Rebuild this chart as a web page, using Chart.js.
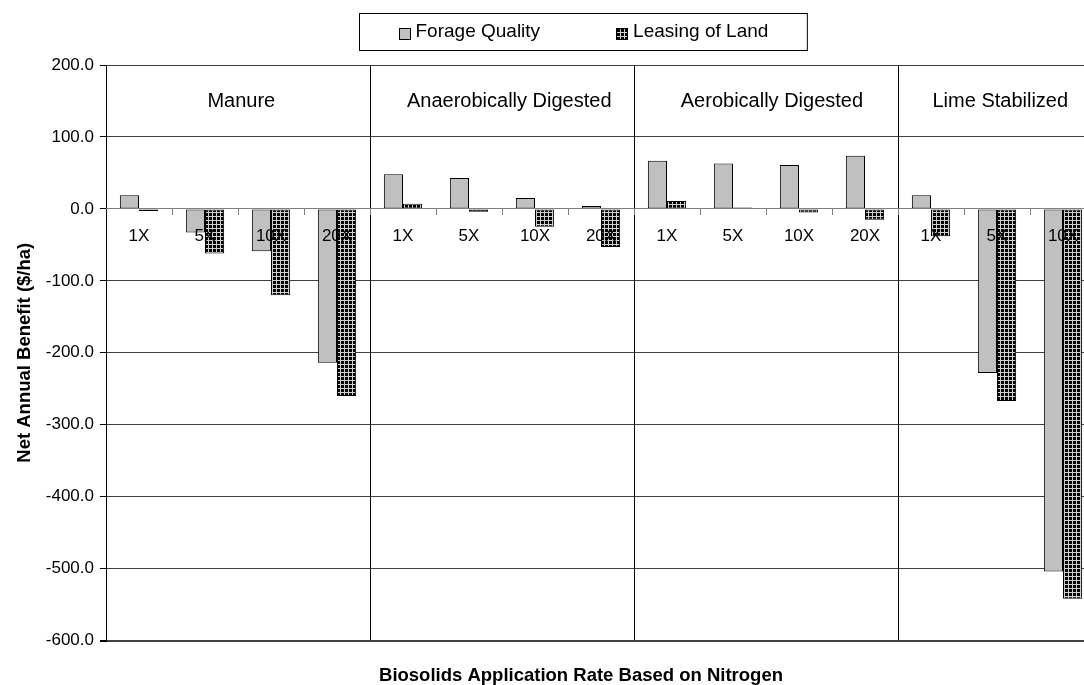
<!DOCTYPE html>
<html>
<head>
<meta charset="utf-8">
<title>Net Annual Benefit</title>
<script src="https://cdn.jsdelivr.net/npm/chart.js@4.4.1/dist/chart.umd.min.js"></script>
<style>
  html, body { margin: 0; padding: 0; background: #fff; overflow: hidden; }
  #wrap { width: 1166px; height: 685px; position: relative; }
</style>
</head>
<body>
<div id="wrap"><canvas id="bar-chart"></canvas></div>
<script>
// groups and application rates (x axis)
const groups = ['Manure', 'Anaerobically Digested', 'Aerobically Digested', 'Lime Stabilized'];
const rates = ['1X', '5X', '10X', '20X'];

// net annual benefit ($/ha); lime 20X lies past the right edge
const forageQuality = [19, -33, -59, -214, 48, 43, 15, 4, 67, 63, 61, 74, 19, -228, -504, null];
const leasingOfLand = [-3, -62, -120, -260, 7, -4, -25, -53, 11, 2, -5, -15, -38, -267, -542, null];

// y axis range
const yMin = -600;
const yMax = 200;
const yStep = 100;

let labels = [];
groups.forEach(() => rates.forEach(r => labels.push(r)));

Chart.defaults.font.family = '"Liberation Sans", Arial, sans-serif';
Chart.defaults.color = '#000';

const canvas = document.querySelector('#bar-chart');

// black fill with light grid, like the excel "large grid" pattern
let gridPattern = function(){
    let tile = document.createElement('canvas');
    tile.width = 4;
    tile.height = 4;
    let g = tile.getContext('2d');
    g.fillStyle = '#000';
    g.fillRect(0, 0, 4, 4);
    g.fillStyle = '#d0d0d0';
    g.fillRect(0, 0, 4, 1);
    g.fillRect(0, 0, 1, 4);
    return canvas.getContext('2d').createPattern(tile, 'repeat');
}

//legend drawn inside a bordered box at the top
const boxLegend = {
    id: 'boxLegend',
    afterDraw(chart, args, opts){
        const ctx = chart.ctx;
        ctx.save();
        ctx.font = opts.font;
        let items = chart.data.datasets.map(ds => ({
            text: ds.label,
            fill: ds.backgroundColor,
            w: ctx.measureText(ds.label).width
        }));
        let content = items.reduce((s, it) => s + opts.box + opts.gap + it.w, 0) + opts.spacing * (items.length - 1);
        let width = content + opts.padX * 2;
        let left = Math.round(chart.width / 2 - width / 2) + 0.5;
        ctx.fillStyle = '#fff';
        ctx.strokeStyle = '#000';
        ctx.lineWidth = 1;
        ctx.fillRect(left, opts.top, width, opts.height);
        ctx.strokeRect(left, opts.top, width, opts.height);
        let x = left + opts.padX;
        let cy = opts.top + opts.height / 2;
        items.forEach(it => {
            let bx = Math.round(x) + 0.5;
            let by = Math.round(cy - opts.box / 2 + opts.boxShift) + 0.5;
            ctx.fillStyle = it.fill;
            ctx.fillRect(bx, by, opts.box, opts.box);
            ctx.strokeRect(bx, by, opts.box, opts.box);
            ctx.fillStyle = '#000';
            ctx.textAlign = 'left';
            ctx.textBaseline = 'middle';
            ctx.fillText(it.text, x + opts.box + opts.gap, cy);
            x += opts.box + opts.gap + it.w + opts.spacing;
        });
        ctx.restore();
    }
};

//group names written inside the plot
const groupLabels = {
    id: 'groupLabels',
    afterDatasetsDraw(chart, args, opts){
        const {ctx, scales: {x, y}} = chart;
        ctx.save();
        ctx.font = opts.font;
        ctx.fillStyle = '#000';
        ctx.textAlign = 'center';
        ctx.textBaseline = 'middle';
        groups.forEach((g, i) => {
            ctx.fillText(g, x.getPixelForValue(opts.at[i]), y.getPixelForValue(opts.level));
        });
        ctx.restore();
    }
};

let data = {
    labels: labels,
    datasets: [
    {
        label: 'Forage Quality',
        data: forageQuality,
        backgroundColor: '#c0c0c0',
        borderColor: '#000',
        borderWidth: 1,
        borderSkipped: false,
        categoryPercentage: 0.58,
        barPercentage: 1.0
    },
    {
        label: 'Leasing of Land',
        data: leasingOfLand,
        backgroundColor: gridPattern(),
        borderColor: '#000',
        borderWidth: 1,
        borderSkipped: false,
        categoryPercentage: 0.58,
        barPercentage: 1.0
    }]
};

const config = {
    type: 'bar',
    data: data,
    plugins: [boxLegend, groupLabels],
    options: {
        responsive: true,
        maintainAspectRatio: false,
        animation: false,
        layout: { padding: { top: 65, right: 4, left: 0, bottom: 0 } },
        plugins: {
            legend: { display: false },
            tooltip: { enabled: false },
            title: {
                display: true,
                position: 'bottom',
                text: 'Biosolids Application Rate Based on Nitrogen',
                color: '#000',
                font: { size: 18.5, weight: 'bold', lineHeight: 1 },
                padding: { top: 26, bottom: 0 }
            },
            boxLegend: {
                font: '19px "Liberation Sans", Arial, sans-serif',
                top: 13.5, height: 37, padX: 39, box: 11, gap: 6, spacing: 76, boxShift: 1.5
            },
            groupLabels: {
                font: '20px "Liberation Sans", Arial, sans-serif',
                at: [1.55, 5.61, 9.59, 13.05],
                level: 149
            }
        },
        scales: {
            x: {
                type: 'category',
                position: { y: 0 },
                grid: {
                    offset: true,
                    color: c => c.index % 4 === 0 ? '#000' : 'rgba(0,0,0,0)',
                    tickColor: '#808080',
                    tickLength: 6,
                    lineWidth: 1
                },
                border: { color: '#808080', width: 1, z: 1 },
                // labels sit in front of the bars, as in the original
                ticks: { z: 2, autoSkip: false, maxRotation: 0, padding: 11, font: { size: 17 } }
            },
            y: {
                min: yMin,
                max: yMax,
                ticks: {
                    stepSize: yStep,
                    padding: 6,
                    font: { size: 17 },
                    callback: v => v.toFixed(1)
                },
                grid: {
                    color: c => c.tick.value === 0 ? 'rgba(0,0,0,0)' : '#404040',
                    lineWidth: c => c.tick.value === yMin ? 2 : 1,
                    tickColor: '#000',
                    tickLength: 6
                },
                border: { color: '#000', width: 1 },
                title: {
                    display: true,
                    text: 'Net Annual Benefit ($/ha)',
                    color: '#000',
                    font: { size: 18.5, weight: 'bold' },
                    padding: { top: 14, bottom: 0 }
                },
                afterFit: s => { s.width = 106; }
            }
        }
    }
};

let myChart = new Chart(canvas, config);
</script>
</body>
</html>
